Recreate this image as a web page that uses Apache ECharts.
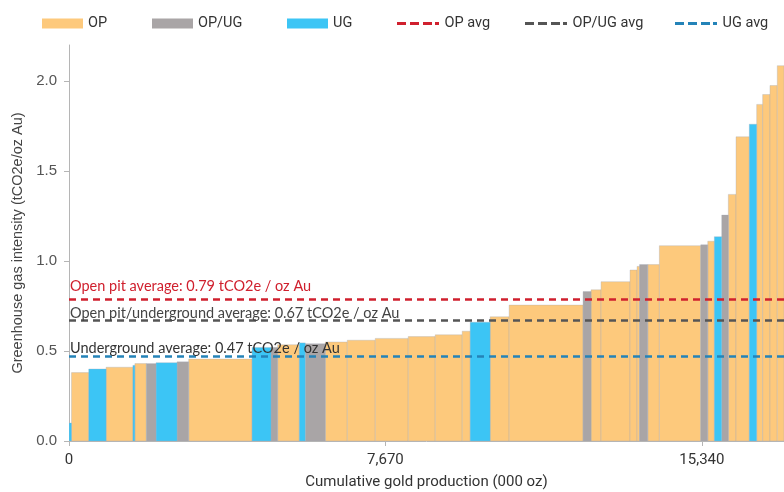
<!DOCTYPE html>
<html>
<head>
<meta charset="utf-8">
<script src="https://cdn.jsdelivr.net/npm/echarts@6/dist/echarts.min.js"></script>
<style>html,body{margin:0;padding:0;background:#fff}#c{width:784px;height:492px}</style>
</head>
<body>
<div id="c"></div>
<script>
// Gold production per mine (000 oz), in cost-curve order
const production = [60,419,421,649,48,279,235,509,281,1536,460,160,526,145,484,533,678,799,654,654,194,484,460,1792,194,242,702,170,61,199,281,1003,170,160,179,160,186,322,179,145,177,177,170];
// Greenhouse gas intensity (tCO2e/oz Au)
const intensity = [0.10,0.38,0.40,0.41,0.42,0.43,0.43,0.435,0.44,0.455,0.52,0.52,0.535,0.545,0.54,0.55,0.56,0.57,0.58,0.59,0.61,0.66,0.69,0.755,0.83,0.84,0.885,0.95,0.97,0.98,0.98,1.085,1.09,1.11,1.135,1.255,1.37,1.69,1.76,1.87,1.925,1.975,2.085];
// Mine type
const mineType = ['UG','OP','UG','OP','UG','OP','OP/UG','UG','OP/UG','OP','UG','OP/UG','OP','UG','OP/UG','OP','OP','OP','OP','OP','OP','UG','OP','OP','OP/UG','OP','OP','OP','OP','OP/UG','OP','OP','OP/UG','OP','UG','OP/UG','OP','OP','UG','OP','OP','OP','OP'];
const typeNames = ['OP','OP/UG','UG'];
// Averages
const avgNames = ['OP avg','OP/UG avg','UG avg'];
const avgValues = [0.79, 0.67, 0.47];
const avgLabels = ['Open pit average: 0.79 tCO2e / oz Au','Open pit/underground average: 0.67 tCO2e / oz Au','Underground average: 0.47 tCO2e / oz Au'];
// Axis ticks
const xTicks = [0, 7670, 15340];
const yTicks = [0, 0.5, 1.0, 1.5, 2.0];
const xMax = 17330, yMax = 2.2;

const typeColors = {'OP':'#fdc97c','OP/UG':'#a9a5a6','UG':'#3cc5f5'};
const avgColors = ['#d0202e','#555555','#2483b8'];
const avgTextColors = ['#d0202e','#444444','#333333'];
const avgLabelGap = [5, 0, 1];
const condFont = 'Roboto, sans-serif';
const armFont = '"Liberation Sans", Arial, sans-serif';
const dashIcon = 'path://M0,0h9v3h-9z M13,0h9v3h-9z M26,0h9v3h-9z M38,0h4v3h-4z';

// cumulative starts
const rows = [];
let acc = 0;
for (let i = 0; i < production.length; i++) {
  rows.push({start: acc, end: acc + production[i], v: intensity[i], t: mineType[i]});
  acc += production[i];
}

function renderBar(params, api) {
  const p0 = api.coord([api.value(0), api.value(2)]);
  const p1 = api.coord([api.value(1), 0]);
  const shape = echarts.graphic.clipRectByRect({
    x: p0[0], y: p0[1], width: p1[0] - p0[0], height: p1[1] - p0[1]
  }, {
    x: params.coordSys.x, y: params.coordSys.y, width: params.coordSys.width, height: params.coordSys.height
  });
  return shape && {
    type: 'rect',
    shape: shape,
    style: {fill: api.visual('color'), stroke: 'rgba(160,170,185,0.55)', lineWidth: 0.6}
  };
}

const series = [];
typeNames.forEach(function (tn) {
  series.push({
    name: tn,
    type: 'custom',
    renderItem: renderBar,
    itemStyle: {color: typeColors[tn]},
    encode: {x: [0, 1], y: 2},
    clip: true,
    data: rows.filter(r => r.t === tn).map(r => [r.start, r.end, r.v])
  });
});
avgNames.forEach(function (an, i) {
  series.push({
    name: an,
    type: 'line',
    symbol: 'none',
    silent: true,
    z: 5,
    lineStyle: {color: avgColors[i], type: [7, 5], width: 2.5},
    itemStyle: {color: avgColors[i]},
    data: [],
    markLine: {
      silent: true,
      symbol: 'none',
      lineStyle: {color: avgColors[i], type: [7, 5], width: 2.5},
      data: [{yAxis: avgValues[i]}],
      label: {
        show: true,
        position: 'insideStartTop',
        distance: [1, avgLabelGap[i]],
        formatter: avgLabels[i],
        color: avgTextColors[i],
        fontSize: 14.5,
        fontFamily: 'Lato, "Noto Sans", sans-serif'
      }
    }
  });
});

const legendLefts = [37, 147, 282, 392, 520, 670];
const legends = [...typeNames, ...avgNames].map(function (n, i) {
  return {
    data: [n],
    left: legendLefts[i],
    top: 11,
    itemWidth: i < 3 ? 41 : 43,
    itemHeight: i < 3 ? 10 : 3,
    itemGap: 0,
    icon: i < 3 ? 'rect' : dashIcon,
    textStyle: {fontSize: 14.5, color: '#333', fontFamily: condFont},
    selectedMode: false
  };
});

const chart = echarts.init(document.getElementById('c'), null, {renderer: 'canvas'});
chart.setOption({
  animation: false,
  backgroundColor: '#fff',
  legend: legends,
  grid: {left: 69, right: 0, top: 45, bottom: 51, containLabel: false, outerBoundsMode: 'none'},
  xAxis: {
    type: 'value',
    min: 0, max: xMax,
    name: 'Cumulative gold production (000 oz)',
    nameLocation: 'middle',
    nameGap: 34,
    nameTextStyle: {fontSize: 15, color: '#333', fontFamily: condFont},
    axisLine: {show: true, lineStyle: {color: '#b5b5b5'}},
    axisTick: {show: true, length: 5, lineStyle: {color: '#b5b5b5'}, customValues: xTicks},
    axisLabel: {
      customValues: xTicks,
      fontSize: 15, color: '#333', fontFamily: condFont, margin: 12,
      formatter: v => v.toLocaleString('en-US')
    },
    splitLine: {show: false}
  },
  yAxis: {
    type: 'value',
    min: 0, max: yMax,
    name: 'Greenhouse gas intensity (tCO2e/oz Au)',
    nameLocation: 'middle',
    nameGap: 37,
    nameTextStyle: {fontSize: 14.5, color: '#444', fontFamily: armFont},
    axisLine: {show: true, lineStyle: {color: '#b5b5b5'}},
    axisTick: {show: true, length: 5, lineStyle: {color: '#b5b5b5'}, customValues: yTicks},
    axisLabel: {
      customValues: yTicks,
      fontSize: 15, color: '#555', fontFamily: armFont, margin: 12,
      formatter: v => v.toFixed(1)
    },
    splitLine: {show: false}
  },
  series: series
});
</script>
</body>
</html>
